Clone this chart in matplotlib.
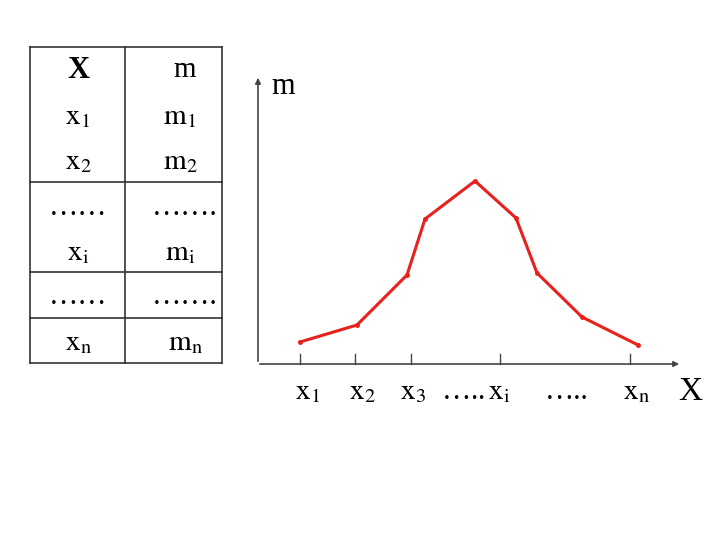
import matplotlib
matplotlib.use("Agg")
import matplotlib.pyplot as plt

plt.rcParams["font.family"] = "Liberation Serif"
plt.rcParams["mathtext.fontset"] = "stix"

# table contents
col_x = ["X", r"$\mathrm{x}_1$", r"$\mathrm{x}_2$", "……", r"$\mathrm{x}_\mathrm{i}$", "……", r"$\mathrm{x}_\mathrm{n}$"]
col_m = ["m", r"$\mathrm{m}_1$", r"$\mathrm{m}_2$", "…….", r"$\mathrm{m}_\mathrm{i}$", "…….", r"$\mathrm{m}_\mathrm{n}$"]

# polygon points (schematic, pixel-like units)
px = [300, 357, 407, 425, 475, 516, 537, 582, 638]
py = [342, 325, 275, 219, 181, 218, 273, 317, 345]
tick_pos = [300, 355, 411, 500, 630]
tick_lbl = [r"$\mathrm{x}_1$", r"$\mathrm{x}_2$", r"$\mathrm{x}_3$  …..$\,\mathrm{x}_\mathrm{i}$", "…..", r"$\mathrm{x}_\mathrm{n}$"]
tick_lbl_x = [308, 362, 455, 567, 636]

fig = plt.figure(figsize=(7.2, 5.4), dpi=100)
ax = fig.add_axes([0, 0, 1, 1])
ax.set_xlim(0, 720)
ax.set_ylim(540, 0)
ax.axis("off")

# table grid
for x in [30, 125, 222]:
    ax.plot([x, x], [47, 363], color="#333", lw=1.2)
for y in [47, 182, 272, 318, 363]:
    ax.plot([30, 222], [y, y], color="#333", lw=1.2)
row_y = [70, 117, 162, 208, 253, 297, 343]
for i, (a, b) in enumerate(zip(col_x, col_m)):
    ax.text(78, row_y[i], a, fontsize=21 if i else 22,
            fontweight="bold" if i == 0 else "normal", ha="center", va="center")
    ax.text(180 if i in (1, 2, 4) else 185, row_y[i], b, fontsize=21, ha="center", va="center")

# axes
ax.annotate("", xy=(258, 75), xytext=(258, 364),
            arrowprops=dict(arrowstyle="-|>", color="#444", lw=1.2, mutation_scale=8))
ax.annotate("", xy=(682, 364), xytext=(257, 364),
            arrowprops=dict(arrowstyle="-|>", color="#444", lw=1.2, mutation_scale=8))
ax.text(283, 87, "m", fontsize=22, ha="center", va="center")
ax.text(690, 392, "X", fontsize=24, ha="center", va="center")
for t in tick_pos:
    ax.plot([t, t], [354, 364], color="#444", lw=1)
for t, l in zip(tick_lbl_x, tick_lbl):
    ax.text(t, 392, l, fontsize=21, ha="center", va="center")

ax.plot(px, py, color="#e8201e", lw=2.2, marker="o", ms=2.5)

fig.savefig("out.png", dpi=100)
